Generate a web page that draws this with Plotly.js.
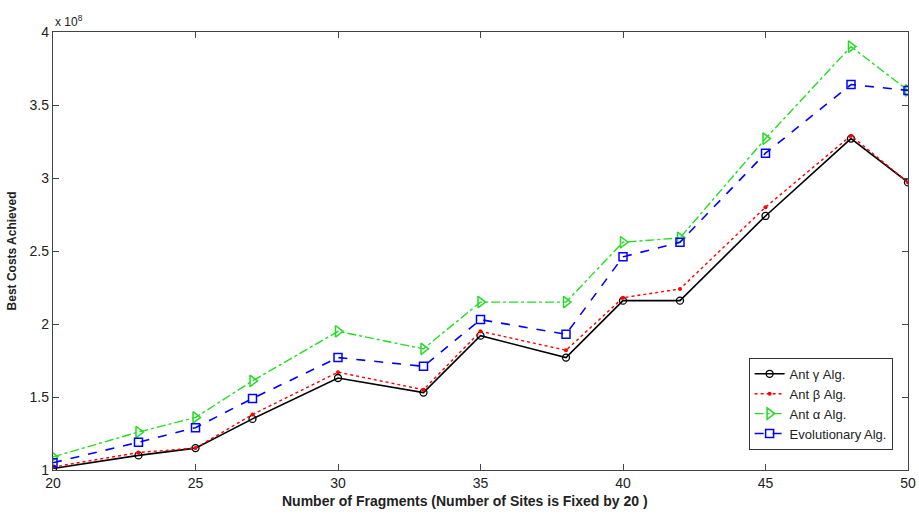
<!DOCTYPE html>
<html><head><meta charset="utf-8">
<script src="https://cdn.plot.ly/plotly-3.0.1.min.js"></script>
<style>body{margin:0;background:#fff}#c{width:919px;height:515px}</style>
</head><body><div id="c"></div>
<script>
const fragments = [20, 23, 25, 27, 30, 33, 35, 38, 40, 42, 45, 48, 50];
const antGamma = [1.01, 1.10, 1.15, 1.35, 1.63, 1.53, 1.92, 1.77, 2.16, 2.16, 2.74, 3.27, 2.97];
const antBeta  = [1.02, 1.12, 1.15, 1.38, 1.67, 1.55, 1.95, 1.82, 2.18, 2.24, 2.80, 3.29, 2.97];
const antAlpha = [1.09, 1.26, 1.36, 1.61, 1.95, 1.83, 2.15, 2.15, 2.56, 2.59, 3.27, 3.90, 3.60];
const evolAlg  = [1.05, 1.19, 1.29, 1.49, 1.77, 1.71, 2.03, 1.93, 2.46, 2.56, 3.17, 3.64, 3.60];
const xTicks = [20, 25, 30, 35, 40, 45, 50];
const yTicks = [1, 1.5, 2, 2.5, 3, 3.5, 4];

const traces = [
  {x: fragments, y: antGamma, name: 'Ant γ Alg.', mode: 'lines+markers',
   line: {color: '#000000', width: 1.6, dash: 'solid'},
   marker: {symbol: 'circle-open', size: 7, color: '#000000', line: {width: 1.3}}},
  {x: fragments, y: antBeta, name: 'Ant β Alg.', mode: 'lines+markers',
   line: {color: '#ff0000', width: 1.4, dash: 'dot'},
   marker: {symbol: 'circle', size: 4, color: '#ff0000'}},
  {x: fragments, y: antAlpha, name: 'Ant α Alg.', mode: 'lines+markers',
   line: {color: '#22dd22', width: 1.4, dash: 'dashdot'},
   marker: {symbol: 'triangle-right-open', size: 10, color: '#22dd22', line: {width: 1.5}}},
  {x: fragments, y: evolAlg, name: 'Evolutionary Alg.', mode: 'lines+markers',
   line: {color: '#0000ff', width: 1.6, dash: 'dash'},
   marker: {symbol: 'square-open', size: 8, color: '#0000ff', line: {width: 1.5}}}
];

const fontFam = 'Liberation Sans, Arial, sans-serif';
const layout = {
  width: 919, height: 515,
  margin: {l: 53, r: 11, t: 32, b: 45},
  paper_bgcolor: '#ffffff', plot_bgcolor: '#ffffff',
  showlegend: true,
  font: {family: fontFam, color: '#222', size: 13},
  xaxis: {
    range: [20, 50], tickvals: xTicks, ticktext: xTicks.map(String),
    ticks: 'inside', ticklen: 6, tickcolor: '#444', showgrid: false, zeroline: false,
    showline: true, linecolor: '#444', linewidth: 1.2, mirror: 'ticks',
    tickfont: {family: fontFam, size: 14, color: '#222'}
  },
  yaxis: {
    range: [1, 4], tickvals: yTicks, ticktext: yTicks.map(String),
    ticks: 'inside', ticklen: 6, tickcolor: '#444', showgrid: false, zeroline: false,
    showline: true, linecolor: '#444', linewidth: 1.2, mirror: 'ticks',
    tickfont: {family: fontFam, size: 14, color: '#222'},
    title: {text: '<b>Best Costs Achieved</b>', font: {family: fontFam, size: 12, color: '#222'}, standoff: 10}
  },
  legend: {
    x: 0.982, xanchor: 'right', y: 0.046, yanchor: 'bottom',
    bgcolor: '#ffffff', bordercolor: '#333', borderwidth: 1,
    font: {family: fontFam, size: 13, color: '#222'},
    tracegroupgap: 0, itemwidth: 30
  },
  annotations: [{
    xref: 'paper', yref: 'paper', x: 0, y: 1, xanchor: 'left', yanchor: 'bottom',
    text: 'x 10<sup>8</sup>', showarrow: false, font: {family: fontFam, size: 12, color: '#222'}, yshift: 1
  }, {
    xref: 'paper', yref: 'paper', x: 0.482, y: 0, xanchor: 'center', yanchor: 'top',
    text: '<b>Number of Fragments (Number of Sites is Fixed by 20 )</b>', showarrow: false,
    font: {family: fontFam, size: 14, color: '#222'}, yshift: -21
  }]
};
Plotly.newPlot('c', traces, layout, {displayModeBar: false, staticPlot: true});
</script></body></html>
